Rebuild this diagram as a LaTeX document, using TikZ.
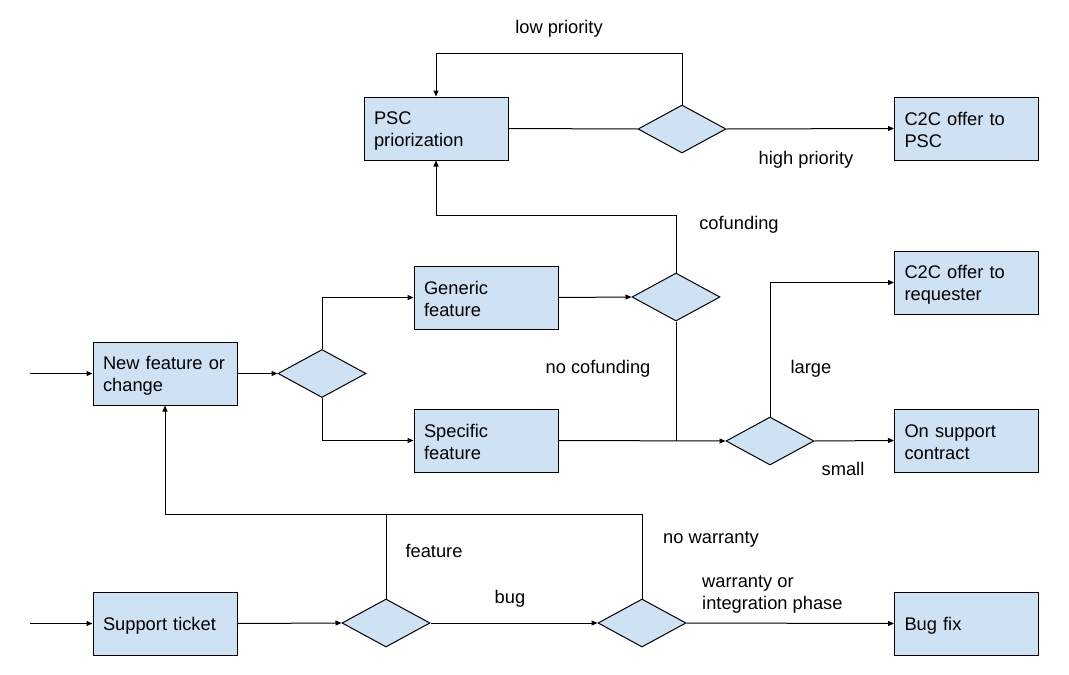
\documentclass[tikz,border=0pt]{standalone}
\usepackage{fontspec}
\setmainfont{Liberation Sans}
\usetikzlibrary{shapes.geometric,arrows.meta}
\definecolor{boxblue}{HTML}{CFE2F3}
\begin{document}
\begin{tikzpicture}[x=1pt,y=-1pt,
  box/.style={draw,fill=boxblue,line width=1pt,minimum width=144pt,minimum height=63pt,text width=124pt,align=left,inner sep=0pt,font=\fontsize{18.3}{22}\selectfont,execute at begin node={\rule{0pt}{17pt}}},
  dia/.style={draw,fill=boxblue,diamond,line width=1pt,minimum width=88pt,minimum height=48pt,inner sep=0pt},
  lbl/.style={font=\fontsize{18.3}{22}\selectfont,inner sep=0pt},
  conn/.style={line width=1pt},
  arr/.style={conn,-{Triangle[length=6pt,width=5pt]}}]
\useasboundingbox (0,0) rectangle (1069,675);

% boxes
\node[box] (psc) at (436,128.5) {PSC\\priorization};
\node[box] (c2cpsc) at (966.5,128.5) {C2C offer to\\PSC};
\node[box] (generic) at (486,297.5) {Generic\\feature};
\node[box] (newf) at (165,373.5) {New feature or\\change};
\node[box] (specific) at (486,440.5) {Specific\\feature};
\node[box] (c2creq) at (966.5,282.5) {C2C offer to\\requester};
\node[box] (onsup) at (966.5,440.5) {On support\\contract};
\node[box] (ticket) at (165,623.5) {Support ticket};
\node[box] (bugfix) at (966.5,623.5) {Bug fix};

% diamonds
\node[dia] (dprio) at (682,129) {};
\node[dia] (dnew) at (322,373.5) {};
\node[dia] (dcof) at (676,297) {};
\node[dia] (dsize) at (770,441) {};
\node[dia] (dtick) at (386,623) {};
\node[dia] (dwar) at (642,623) {};

% coordinates
\coordinate (in1) at (30,373.5);
\coordinate (in2) at (30,623.5);
\coordinate (j1) at (676,441);
\coordinate (j2) at (386,514);

% connectors
\draw[arr] (in1) -- (newf.west);
\draw[arr] (newf.east) -- (dnew.west);
\draw[arr] (dnew.north) |- (generic.west);
\draw[arr] (dnew.south) |- (specific.west);
\draw[arr] (generic.east) -- (dcof.west);
\draw[arr] (dcof.north) |- (436,215) -- (psc.south);
\draw[conn] (dcof.south) -- (j1);
\draw[arr] (specific.east) -- (dsize.west);
\draw[arr] (dsize.north) |- (c2creq.west);
\draw[arr] (dsize.east) -- (onsup.west);
\draw[conn] (psc.east) -- (dprio.west);
\draw[arr] (dprio.east) -- (c2cpsc.west);
\draw[arr] (dprio.north) |- (436,53) -- (psc.north);
\draw[arr] (in2) -- (ticket.west);
\draw[arr] (ticket.east) -- (dtick.west);
\draw[arr] (dtick.north) -- (j2) -| (newf.south);
\draw[arr] (dtick.east) -- (dwar.west);
\draw[conn] (dwar.north) |- (j2);
\draw[arr] (dwar.east) -- (bugfix.west);

% labels
\node[lbl] (llow) at (559,29) {low priority};
\node[lbl] (lhigh) at (806,160) {high priority};
\node[lbl] (lcof) at (739,225) {cofunding};
\node[lbl] (lnocof) at (598,369) {no cofunding};
\node[lbl] (llarge) at (811,369) {large};
\node[lbl] (lsmall) at (843,469) {small};
\node[lbl] (lfeat) at (434,551) {feature};
\node[lbl] (lbug) at (510,599) {bug};
\node[lbl] (lnowar) at (711,539) {no warranty};
\node[lbl,anchor=west,align=left] (lwar) at (702,594) {warranty or\\integration phase};
\end{tikzpicture}
\end{document}
